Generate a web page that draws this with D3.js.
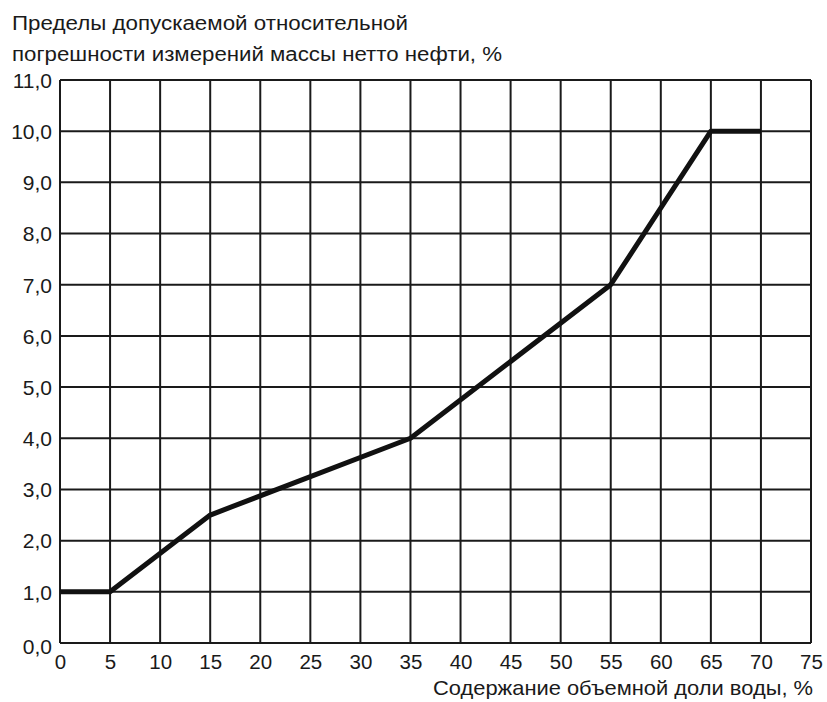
<!DOCTYPE html>
<html><head><meta charset="utf-8">
<script src="https://cdn.jsdelivr.net/npm/d3@7"></script>
<style>body{margin:0;background:#fff}svg{display:block}text{font-family:"Liberation Sans",Arial,sans-serif;fill:#1a1a1a}</style>
</head><body>
<svg id="c" width="827" height="702"></svg>
<script>
const waterShare = [0, 5, 15, 35, 55, 65, 70];
const errorLimit = [1.0, 1.0, 2.5, 4.0, 7.0, 10.0, 10.0];
const xTicks = [0,5,10,15,20,25,30,35,40,45,50,55,60,65,70,75];
const yTicks = [0,1,2,3,4,5,6,7,8,9,10,11];
const titleLines = ["Пределы допускаемой относительной","погрешности измерений массы нетто нефти, %"];
const xTitle = "Содержание объемной доли воды, %";

const svg = d3.select("#c");
const L=60, R=811, T=80, B=643;
const x = d3.scaleLinear().domain([0,75]).range([L,R]);
const y = d3.scaleLinear().domain([0,11]).range([B,T]);
const fmt = d => d.toFixed(1).replace(".", ",");

const g = svg.append("g");
g.selectAll("line.v").data(xTicks).join("line")
 .attr("x1",d=>x(d)).attr("x2",d=>x(d)).attr("y1",T).attr("y2",B)
 .attr("stroke","#1a1a1a").attr("stroke-width",2);
g.selectAll("line.h").data(yTicks).join("line")
 .attr("y1",d=>y(d)).attr("y2",d=>y(d)).attr("x1",L).attr("x2",R)
 .attr("stroke","#1a1a1a").attr("stroke-width",2);

const yAxis = svg.append("g").attr("transform",`translate(${L},0)`)
 .call(d3.axisLeft(y).tickValues(yTicks).tickFormat(fmt).tickSize(0).tickPadding(8));
yAxis.select(".domain").remove();
yAxis.selectAll("text").attr("font-size",21).attr("font-family","Liberation Sans, Arial, sans-serif").attr("fill","#1a1a1a")
 .attr("dy", d => d===0 ? "0.5em" : "0.35em");

const xAxis = svg.append("g").attr("transform",`translate(0,${B})`)
 .call(d3.axisBottom(x).tickValues(xTicks).tickSize(0).tickPadding(11));
xAxis.select(".domain").remove();
xAxis.selectAll("text").attr("font-size",20.5).attr("font-family","Liberation Sans, Arial, sans-serif").attr("fill","#1a1a1a");

svg.append("path").datum(waterShare.map((v,i)=>[v,errorLimit[i]]))
 .attr("d", d3.line().x(d=>x(d[0])).y(d=>y(d[1])))
 .attr("fill","none").attr("stroke","#111").attr("stroke-width",5).attr("stroke-linejoin","round");

const titleW = [396, 490];
svg.selectAll("text.t").data(titleLines).join("text").attr("class","t")
 .attr("x",12).attr("y",(d,i)=>30+i*31).attr("font-size",20)
 .attr("textLength",(d,i)=>titleW[i]).attr("lengthAdjust","spacingAndGlyphs").text(d=>d);
svg.append("text").attr("x",433).attr("y",695).attr("font-size",21)
 .attr("textLength",380).attr("lengthAdjust","spacingAndGlyphs").text(xTitle);
</script></body></html>
